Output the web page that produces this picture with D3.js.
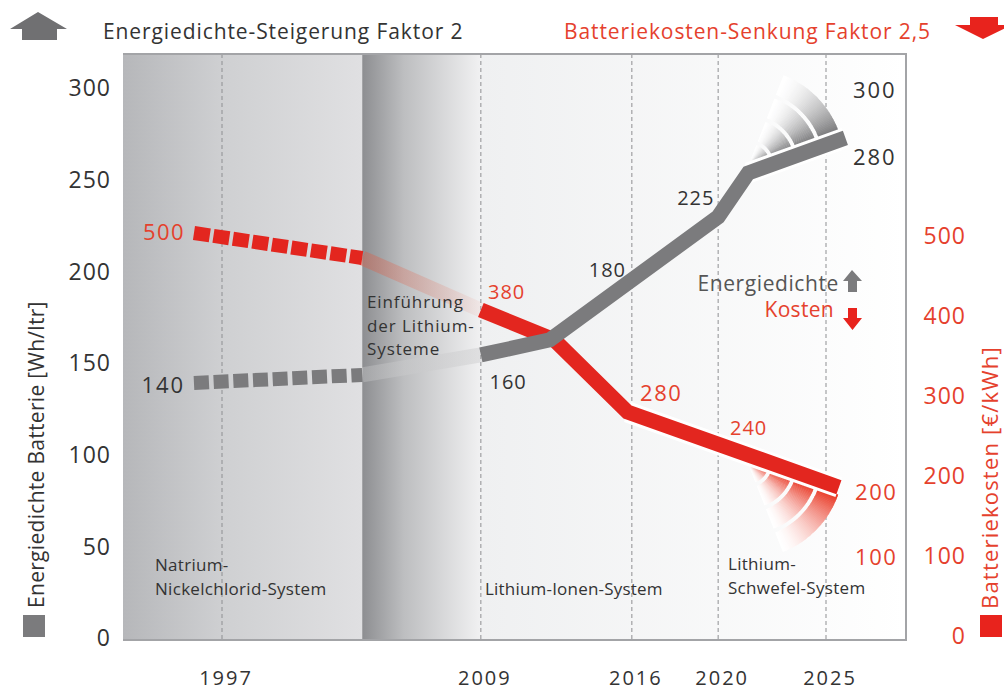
<!DOCTYPE html>
<html><head><meta charset="utf-8">
<script src="https://cdn.jsdelivr.net/npm/d3@7"></script>
<style>
body{margin:0;background:#fff;}
svg{display:block;}
text{font-family:"Open Sans","Noto Sans",sans-serif;}
</style>
</head><body>
<svg id="c" width="1004" height="691"></svg>
<script>
// ---------- data ----------
const yearTicks = [1997, 2009, 2016, 2020, 2025];
const energyTicks = [0, 50, 100, 150, 200, 250, 300];
const costTicks = [0, 100, 200, 300, 400, 500];

// energy density [Wh/ltr]
const energyProjected = [[1995.7, 140.2], [2003.5, 144.6]];
const energyTransition = [[2003.5, 144.6], [2009, 155.5]];
const energyActual = [[2009, 155.5], [2012.2, 163.7], [2020, 230.8], [2021.4, 254.8], [2025.9, 273.9]];

// battery cost [€/kWh]
const costProjected = [[1995.7, 503.8], [2003.5, 472.5]];
const costTransition = [[2003.5, 472.5], [2009, 407.5]];
const costActual = [[2009, 407.5], [2012.4, 370], [2015.8, 280], [2025.6, 186]];

// value annotations: text, year, value, anchor
const energyLabels = [["140", 1995.2, 139, "end"], ["160", 2009.4, 140.7, "start"], ["180", 2014.0, 201.8, "start"],
  ["225", 2018.1, 241.1, "start"], ["300", 2026.25, 300, "start"], ["280", 2026.25, 263.5, "start"]];
const costLabels = [["500", 1995.2, 505, "end"], ["380", 2009.33, 430, "start"], ["280", 2016.38, 303.7, "start"],
  ["240", 2020.55, 260, "start"], ["200", 2026.35, 180, "start"], ["100", 2026.35, 98.7, "start"]];

// ---------- layout ----------
const plotL = 123, plotR = 906, plotT = 54, plotB = 640;
const GRAY = "#7b7b7d", RED = "#e3261f", TXT = "#333333", RTXT = "#e5412d";
const BIG = ["300", "280", "140", "500", "200", "100"];

const x = d3.scaleLinear().domain([1997, 2025]).range([222, 826]);
const yE = d3.scaleLinear().domain([0, 300]).range([640, 90]);
const yC = d3.scaleLinear().domain([0, 500]).range([636, 236]);

const svg = d3.select("#c");
const defs = svg.append("defs");

function linGrad(id, x1, x2, stops) {
  const g = defs.append("linearGradient").attr("id", id).attr("gradientUnits", "userSpaceOnUse")
    .attr("x1", x1).attr("x2", x2).attr("y1", 0).attr("y2", 0);
  stops.forEach(s => g.append("stop").attr("offset", s[0]).attr("stop-color", s[1]).attr("stop-opacity", s[2] == null ? 1 : s[2]));
}

const bandStart = x(2003.5), bandEnd = x(2009);
linGrad("g1", plotL, bandStart, [[0, "#b6b7ba"], [0.42, "#cfd0d2"], [1, "#e0e0e2"]]);
linGrad("g2", bandStart, bandEnd, [[0, "#8d8e91"], [0.35, "#bdbec0"], [1, "#f1f1f2"]]);
linGrad("g3", bandEnd, plotR, [[0, "#eff0f1"], [1, "#ffffff"]]);

svg.append("rect").attr("x", plotL).attr("y", plotT).attr("width", bandStart - plotL).attr("height", plotB - plotT).attr("fill", "url(#g1)");
svg.append("rect").attr("x", bandStart).attr("y", plotT).attr("width", bandEnd - bandStart).attr("height", plotB - plotT).attr("fill", "url(#g2)");
svg.append("rect").attr("x", bandEnd).attr("y", plotT).attr("width", plotR - bandEnd).attr("height", plotB - plotT).attr("fill", "url(#g3)");

// gridlines
svg.append("g").selectAll("line").data(yearTicks).join("line")
  .attr("x1", d => x(d)).attr("x2", d => x(d)).attr("y1", plotT).attr("y2", plotB)
  .attr("stroke", "#8e8f92").attr("stroke-width", 1).attr("stroke-dasharray", "4,3");

// frame
svg.append("path").attr("d", `M${plotL},${plotT}H${plotR}V${plotB}H${plotL}`)
  .attr("fill", "none").attr("stroke", "#a3a4a7").attr("stroke-width", 2);

const lineE = d3.line().x(d => x(d[0])).y(d => yE(d[1]));
const lineC = d3.line().x(d => x(d[0])).y(d => yC(d[1]));

// transition (faded) segments
linGrad("fr", bandStart, bandEnd, [[0, "#e8553a", 0.35], [1, "#e8553a", 0.06]]);
linGrad("fg", bandStart, bandEnd, [[0, "#ffffff", 0.2], [1, "#9a9a9c", 0.2]]);
svg.append("path").attr("d", lineC(costTransition)).attr("fill", "none").attr("stroke", "url(#fr)").attr("stroke-width", 15);
svg.append("path").attr("d", lineE(energyTransition)).attr("fill", "none").attr("stroke", "url(#fg)").attr("stroke-width", 15);

// projected (dashed) segments
svg.append("path").attr("d", lineC(costProjected)).attr("fill", "none").attr("stroke", RED)
  .attr("stroke-width", 14).attr("stroke-dasharray", "16,3.7");
svg.append("path").attr("d", lineE(energyProjected)).attr("fill", "none").attr("stroke", GRAY)
  .attr("stroke-width", 14).attr("stroke-dasharray", "15,4.7");

// fans
const LW = 15;
const bands = [[1, 21], [25, 46], [50, 71], [75, 96]];
function fan(p0, p1, t, side, color, sweep, pw) {
  const a = [p0[0] + (p1[0] - p0[0]) * t, p0[1] + (p1[1] - p0[1]) * t];
  const dx = p1[0] - p0[0], dy = p1[1] - p0[1], len = Math.hypot(dx, dy);
  const ux = dx / len, uy = dy / len;
  const px = -uy * side, py = ux * side;
  const c = [a[0] + px * LW / 2, a[1] + py * LW / 2];
  const ang = Math.atan2(ux, -uy);
  const g = svg.append("g").attr("transform", `translate(${c[0]},${c[1]})`);
  const N = 48;
  const arc = d3.arc();
  const ip = d3.interpolateRgb("#ffffff", color);
  bands.forEach(b => {
    for (let i = 0; i < N; i++) {
      const s0 = i / N, s1 = (i + 1) / N;
      const a0 = ang + sweep * s0, a1 = ang + sweep * s1;
      const tt = 1 - (s0 + s1) / 2;
      g.append("path").attr("d", arc({innerRadius: b[0], outerRadius: b[1],
        startAngle: Math.min(a0, a1) - 0.004, endAngle: Math.max(a0, a1) + 0.004}))
        .attr("fill", ip(Math.pow(tt, pw)));
    }
  });
}
const pxE = energyActual.map(d => [x(d[0]), yE(d[1])]);
const pxC = costActual.map(d => [x(d[0]), yC(d[1])]);
fan(pxE[3], pxE[4], 0.03, -1, "#737375", -0.85, 1.7);
fan(pxC[2], pxC[3], 0.58, 1, "#e8331f", 0.85, 1.6);

// white separators under last segments
svg.append("path").attr("d", lineC(costActual.slice(2))).attr("fill", "none").attr("stroke", "#fff").attr("stroke-width", LW + 6);
svg.append("path").attr("d", lineE(energyActual.slice(3))).attr("fill", "none").attr("stroke", "#fff").attr("stroke-width", LW + 6);

// actual lines
svg.append("path").attr("d", lineC(costActual)).attr("fill", "none").attr("stroke", RED).attr("stroke-width", LW).attr("stroke-linejoin", "miter");
svg.append("path").attr("d", lineE(energyActual)).attr("fill", "none").attr("stroke", GRAY).attr("stroke-width", LW).attr("stroke-linejoin", "miter");

// axes tick labels
svg.append("g").selectAll("text").data(energyTicks).join("text")
  .attr("x", 111).attr("y", d => yE(d) - 2).attr("dy", "0.36em").attr("text-anchor", "end")
  .attr("font-size", 23).attr("letter-spacing", 1).attr("fill", TXT).text(d => d);
svg.append("g").selectAll("text").data(costTicks).join("text")
  .attr("x", 966).attr("y", d => yC(d)).attr("dy", "0.36em").attr("text-anchor", "end")
  .attr("font-size", 23).attr("letter-spacing", 1).attr("fill", RTXT).text(d => d);
svg.append("g").selectAll("text").data(yearTicks).join("text")
  .attr("x", d => x(d) + 4).attr("y", 685).attr("text-anchor", "middle")
  .attr("font-size", 20).attr("letter-spacing", 2).attr("fill", TXT).text(d => d);

// value labels
svg.append("g").selectAll("text").data(energyLabels).join("text")
  .attr("x", d => x(d[1]) + (d[3] === "end" ? 2 : 0)).attr("y", d => yE(d[2])).attr("dy", "0.36em").attr("text-anchor", d => d[3])
  .attr("font-size", d => BIG.includes(d[0]) ? 22 : 20).attr("letter-spacing", d => BIG.includes(d[0]) ? 2 : 1)
  .attr("fill", TXT).text(d => d[0]);
svg.append("g").selectAll("text").data(costLabels).join("text")
  .attr("x", d => x(d[1]) + (d[3] === "end" ? 2 : 0)).attr("y", d => yC(d[2])).attr("dy", "0.36em").attr("text-anchor", d => d[3])
  .attr("font-size", d => BIG.includes(d[0]) ? 22 : 20).attr("letter-spacing", d => BIG.includes(d[0]) ? 1.5 : 1)
  .attr("fill", RTXT).text(d => d[0]);

// headers
svg.append("path").attr("d", "M10,29L38,12L67,29L57,29L57,40L22,40L22,29Z").attr("fill", "#707072");
svg.append("text").attr("x", 103).attr("y", 39).attr("font-size", 21).attr("letter-spacing", 0.9).attr("fill", TXT).text("Energiedichte-Steigerung Faktor 2");
svg.append("text").attr("x", 931).attr("y", 39).attr("text-anchor", "end").attr("font-size", 21).attr("letter-spacing", 0.9).attr("fill", RTXT).text("Batteriekosten-Senkung Faktor 2,5");
svg.append("path").attr("d", "M970,17L998,17L998,25L1012,25L983,39L955,25L970,25Z").attr("fill", "#e8231d");

// axis titles
svg.append("text").attr("transform", "translate(44,608) rotate(-90)").attr("font-size", 21).attr("letter-spacing", 0.3).attr("fill", TXT).text("Energiedichte Batterie [Wh/ltr]");
svg.append("rect").attr("x", 23).attr("y", 615).attr("width", 22).attr("height", 22).attr("fill", "#7b7b7d");
svg.append("text").attr("transform", "translate(998,609) rotate(-90)").attr("font-size", 22).attr("letter-spacing", 1.2).attr("fill", RTXT).text("Batteriekosten [€/kWh]");
svg.append("rect").attr("x", 980).attr("y", 615).attr("width", 22).attr("height", 22).attr("fill", "#e8231d");

// region labels
function multi(lines, x0, y0, lh, fs, ls, fill) {
  lines.forEach((l, i) => svg.append("text").attr("x", x0).attr("y", y0 + i * lh)
    .attr("font-size", fs).attr("letter-spacing", ls).attr("fill", fill).text(l));
}
multi(["Natrium-", "Nickelchlorid-System"], 155, 571, 24, 17, 0.3, TXT);
multi(["Lithium-Ionen-System"], 485, 595, 24, 17, 0.2, TXT);
multi(["Lithium-", "Schwefel-System"], 728, 570, 24, 17, 0.3, TXT);
multi(["Einführung", "der Lithium-", "Systeme"], 367, 308, 23.5, 17, 0.9, TXT);

// legend inside
svg.append("text").attr("x", 839).attr("y", 283).attr("dy", "0.36em").attr("text-anchor", "end").attr("font-size", 21).attr("letter-spacing", 0.6).attr("fill", "#555").text("Energiedichte");
svg.append("path").attr("d", "M852,270L862,281L857,281L857,292L848,292L848,281L843,281Z").attr("fill", "#7b7b7d");
svg.append("text").attr("x", 834).attr("y", 309).attr("dy", "0.36em").attr("text-anchor", "end").attr("font-size", 21).attr("letter-spacing", 0.3).attr("fill", RTXT).text("Kosten");
svg.append("path").attr("d", "M848,308L857,308L857,318L862,318L852.5,330L843,318L848,318Z").attr("fill", "#e8231d");
</script>
</body></html>
